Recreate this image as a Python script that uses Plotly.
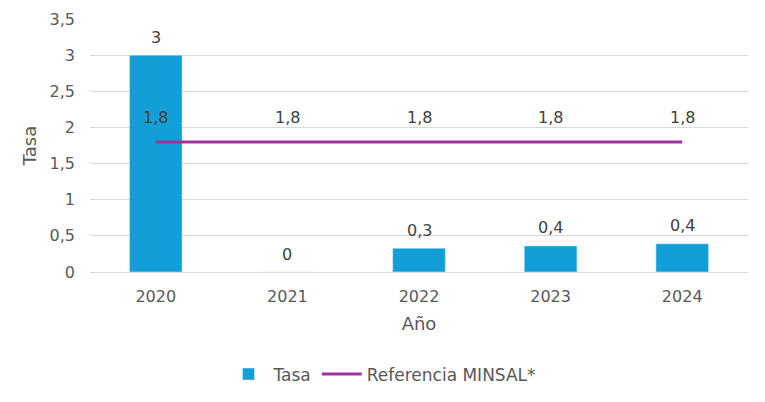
import plotly.graph_objects as go

years = ["2020", "2021", "2022", "2023", "2024"]
tasa = [3.0, 0.0, 0.33, 0.36, 0.39]
referencia = [1.8, 1.8, 1.8, 1.8, 1.8]
y_ticks = [0, 0.5, 1, 1.5, 2, 2.5, 3, 3.5]
y_tick_labels = ["0", "0,5", "1", "1,5", "2", "2,5", "3", "3,5"]


def fmt(v):
    s = f"{round(v + 1e-9, 1):.1f}".replace(".", ",")
    return s[:-2] if s.endswith(",0") else s


font_family = "DejaVu Sans"
gray = "#595959"
label_color = "#404040"

fig = go.Figure()
fig.add_trace(go.Bar(
    x=years, y=tasa, name="Tasa", marker_color="#129FD7",
))
fig.add_trace(go.Scatter(
    x=years, y=referencia, name="Referencia MINSAL*", mode="lines",
    line=dict(color="#A0309A", width=3),
))

annotations = []
for i, v in enumerate(tasa):
    annotations.append(dict(x=i, y=v, xref="x", yref="y", text=fmt(v), showarrow=False,
                            yanchor="middle", yshift=18,
                            font=dict(size=16, color=label_color, family=font_family)))
for i, v in enumerate(referencia):
    annotations.append(dict(x=i, y=v, xref="x", yref="y", text=fmt(v), showarrow=False,
                            yanchor="middle", yshift=24,
                            font=dict(size=16, color=label_color, family=font_family)))

fig.update_layout(
    width=765, height=402,
    margin=dict(l=90, r=17, t=19, b=130, autoexpand=False),
    paper_bgcolor="white", plot_bgcolor="white",
    font=dict(family=font_family, color=gray, size=16),
    bargap=0.6,
    showlegend=True,
    legend=dict(orientation="h", xref="container", x=0.5, xanchor="center",
                y=-0.405, yanchor="middle", font=dict(size=17, color=gray),
                itemwidth=40),
    annotations=annotations,
)
fig.update_xaxes(
    type="category", categoryorder="array", categoryarray=years,
    range=[-0.5, len(years) - 0.5],
    title=dict(text="Año", font=dict(size=18, color=gray), standoff=12),
    tickfont=dict(size=16, color=gray), showgrid=False, showline=False, ticks="",
    ticklabelstandoff=13,
)
fig.update_yaxes(
    title=dict(text="Tasa", font=dict(size=18, color=gray), standoff=8),
    range=[0, 3.5], tickvals=y_ticks, ticktext=y_tick_labels,
    tickfont=dict(size=16, color=gray), showgrid=True, gridcolor="#D9D9D9",
    gridwidth=1, zeroline=True, zerolinecolor="#D9D9D9", zerolinewidth=1,
    ticks="", ticklen=0, ticklabelstandoff=14,
)

fig.write_html("out.html", config={"displayModeBar": False},
               post_script="document.body.style.margin='0';")
